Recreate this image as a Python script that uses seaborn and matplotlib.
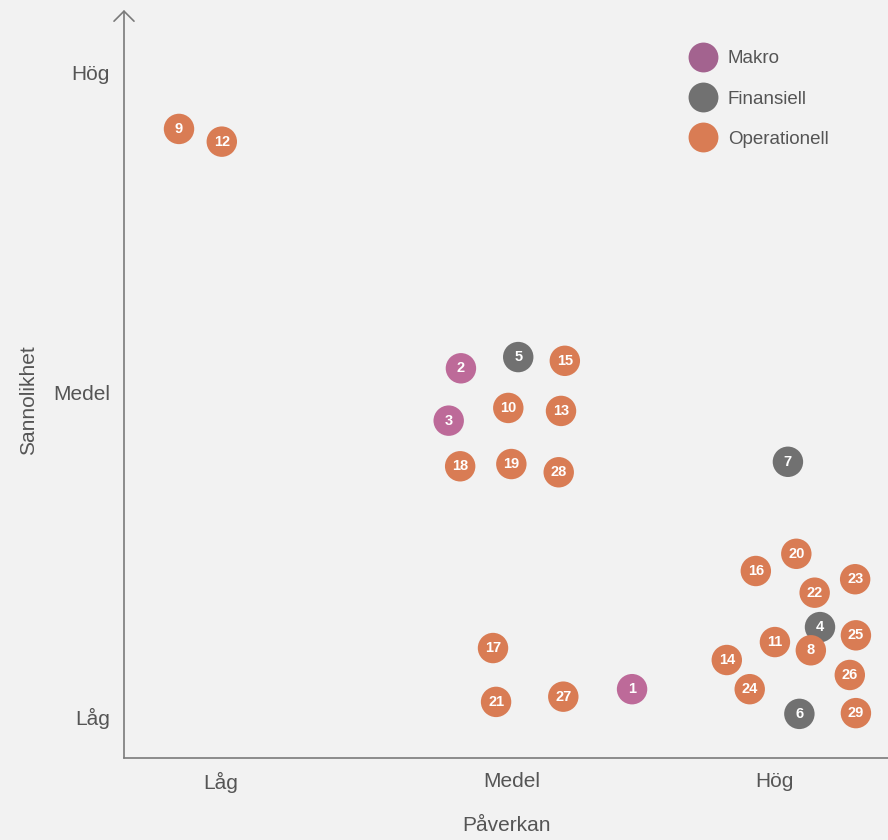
import pandas as pd
import seaborn as sns
import matplotlib.pyplot as plt
from matplotlib.lines import Line2D

# Risk id, category, impact (Påverkan) and likelihood (Sannolikhet) on a 0-100 scale
risk_id = [1, 2, 3, 4, 5, 6, 7, 8, 9, 10, 11, 12, 13, 14, 15,
           16, 17, 18, 19, 20, 21, 22, 23, 24, 25, 26, 27, 28, 29]
kategori = ["Makro", "Makro", "Makro", "Finansiell", "Finansiell", "Finansiell", "Finansiell",
            "Operationell", "Operationell", "Operationell", "Operationell", "Operationell",
            "Operationell", "Operationell", "Operationell", "Operationell", "Operationell",
            "Operationell", "Operationell", "Operationell", "Operationell", "Operationell",
            "Operationell", "Operationell", "Operationell", "Operationell", "Operationell",
            "Operationell", "Operationell"]
paverkan = [66.5, 44.1, 42.5, 91.1, 51.6, 88.4, 86.9, 89.9, 7.2, 50.3, 85.2, 12.8, 57.2, 78.9, 57.7,
            82.7, 48.3, 44.0, 50.7, 88.0, 48.7, 90.4, 95.7, 81.9, 95.8, 95.0, 57.5, 56.9, 95.8]
sannolikhet = [9.2, 52.1, 45.1, 17.5, 53.6, 5.9, 39.6, 14.4, 84.1, 46.8, 15.5, 82.4, 46.4, 13.1, 53.1,
               25.0, 14.7, 39.0, 39.3, 27.3, 7.5, 22.1, 23.9, 9.2, 16.4, 11.1, 8.2, 38.2, 6.0]

x_ticks = [12.7, 50.8, 85.2]
y_ticks = [5.5, 48.9, 91.6]
niva = ["Låg", "Medel", "Hög"]

df = pd.DataFrame({"id": risk_id, "Kategori": kategori,
                   "Påverkan": paverkan, "Sannolikhet": sannolikhet})

palette = {"Makro": "#bd6a99", "Finansiell": "#717171", "Operationell": "#d97c54"}
legend_colors = {"Makro": "#a3638f", "Finansiell": "#717171", "Operationell": "#d97c54"}
text_col = "#555555"
axis_col = "#7a7a7a"
bg = "#f2f2f2"

sns.set_style("white")
plt.rcParams["font.family"] = ["Liberation Sans", "DejaVu Sans"]

fig = plt.figure(figsize=(8.88, 8.40), dpi=100, facecolor=bg)
ax = fig.add_axes([124 / 888, 82 / 840, 1 - 124 / 888, 748 / 840])
ax.set_facecolor(bg)

sns.scatterplot(data=df, x="Påverkan", y="Sannolikhet", hue="Kategori", palette=palette,
                s=480, edgecolor="none", linewidth=0, legend=False, ax=ax, zorder=3)

for _, r in df.iterrows():
    ax.text(r["Påverkan"], r["Sannolikhet"], str(r["id"]), color="white", fontsize=10.5,
            fontweight="bold", ha="center", va="center", zorder=4)

ax.set_xlim(0, 100)
ax.set_ylim(0, 100)
ax.set_xticks(x_ticks)
ax.set_xticklabels(niva)
ax.set_yticks(y_ticks)
ax.set_yticklabels(niva)
ax.tick_params(length=0, labelsize=15, colors=text_col, pad=10)

for s in ["top", "right", "left"]:
    ax.spines[s].set_visible(False)
ax.spines["bottom"].set_color(axis_col)
ax.spines["bottom"].set_linewidth(1.2)
ax.annotate("", xy=(0, 1), xytext=(0, 0), xycoords="axes fraction",
            arrowprops=dict(arrowstyle="->, head_length=0.45, head_width=0.45",
                            color=axis_col, lw=1.2, mutation_scale=16,
                            shrinkA=0, shrinkB=0), annotation_clip=False)

ax.set_xlabel("Påverkan", fontsize=15, color=text_col)
ax.set_ylabel("Sannolikhet", fontsize=15, color=text_col)
ax.xaxis.set_label_coords(0.5, -0.078)
ax.yaxis.set_label_coords(-0.113, 0.479)

handles = [Line2D([0], [0], marker="o", linestyle="none", markersize=21.5,
                  markerfacecolor=legend_colors[k], markeredgewidth=0, label=k)
           for k in ["Makro", "Finansiell", "Operationell"]]
leg = ax.legend(handles=handles, loc="upper left", bbox_to_anchor=(692 / 888, 1 - 50 / 840),
                bbox_transform=fig.transFigure, frameon=False, fontsize=13.5,
                labelspacing=1.24, handlelength=1.2, handletextpad=0.71, borderpad=0,
                borderaxespad=0)
for t in leg.get_texts():
    t.set_color(text_col)

fig.savefig("out.png", dpi=100, facecolor=bg)
